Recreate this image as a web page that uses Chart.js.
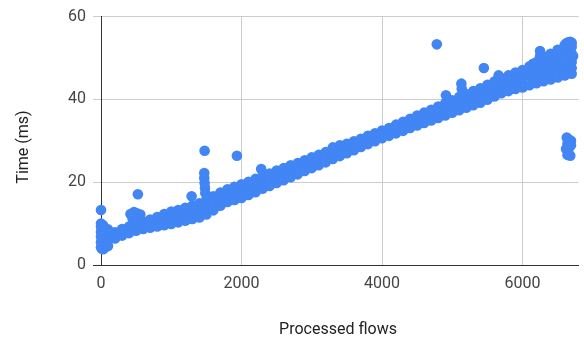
<!DOCTYPE html>
<html>
<head>
<meta charset="utf-8">
<script src="https://cdn.jsdelivr.net/npm/chart.js@4/dist/chart.umd.min.js"></script>
<style>
  html, body { margin: 0; padding: 0; background: #ffffff; }
  #c { display: block; }
</style>
</head>
<body>
<canvas id="c" width="584" height="341"></canvas>
<script>
// Processed flows (x) sampled along the dense band
const flows = [0,100,200,300,400,500,600,700,800,900,1000,1100,1200,1300,1400,1500,1600,1700,1800,1900,
  2000,2100,2200,2300,2400,2500,2600,2700,2800,2900,3000,3100,3200,3300,3400,3500,3600,3700,3800,3900,
  4000,4100,4200,4300,4400,4500,4600,4700,4800,4900,5000,5100,5200,5300,5400,5500,5600,5700,5800,5900,
  6000,6100,6200,6300,6400,6500,6600,6700];

// Time (ms): upper edge of the band
const timeUpper = [9.3,8.6,7.9,8.7,9.3,9.9,10.5,11.0,11.6,12.3,12.9,13.3,13.8,14.3,14.9,15.8,16.6,17.5,18.3,18.9,
  19.5,20.1,20.8,21.5,22.1,22.8,23.4,24.1,24.6,25.3,26.0,26.6,27.3,28.4,28.9,29.3,29.9,30.5,31.2,31.8,
  32.5,33.1,33.9,34.6,35.3,36.1,36.8,37.5,38.3,39.1,39.8,40.6,41.3,42.0,42.7,43.5,44.3,45.1,45.8,46.5,
  47.1,48.0,49.0,50.0,51.0,52.0,53.1,53.7];

// Time (ms): middle of the band
const timeMiddle = [6.8,6.6,7.2,8.0,8.6,9.2,9.6,10.0,10.5,11.0,11.4,11.8,12.3,12.7,13.2,14.0,14.9,15.9,16.8,17.3,
  17.9,18.5,19.2,20.0,20.6,21.3,22.0,22.7,23.3,24.0,24.7,25.4,26.1,27.0,27.6,28.2,28.8,29.5,30.2,30.9,
  31.5,32.2,32.9,33.5,34.2,34.9,35.6,36.2,36.9,37.6,38.3,39.0,39.7,40.3,41.0,41.7,42.5,43.3,43.9,44.5,
  45.0,45.8,46.5,47.3,48.0,48.7,49.5,50.0];

// Time (ms): lower edge of the band
const timeLower = [4.3,4.6,6.4,7.1,7.7,8.3,8.7,9.0,9.3,9.6,9.9,10.3,10.7,11.1,11.5,12.2,13.2,14.3,15.2,15.7,
  16.2,16.9,17.6,18.4,19.1,19.8,20.5,21.2,21.9,22.7,23.4,24.1,24.8,25.6,26.3,27.0,27.7,28.5,29.2,29.9,
  30.6,31.2,31.8,32.4,33.1,33.7,34.3,34.9,35.5,36.1,36.8,37.4,38.0,38.6,39.2,39.9,40.7,41.5,42.0,42.5,
  42.9,43.4,43.9,44.4,44.8,45.3,45.8,46.2];

// Isolated points, spikes and clusters
const extraFlows = [0,0,0,10,30,50,30,60,20,
  0,
  420,470,520,560,450,540,
  525,1290,
  1470,1470,1475,1480,1485,1475,1935,2280,
  4780,4910,5130,5135,5450,5660,
  6250,6250,
  6250,6250,6350,6350,6450,6450,6550,6550,6650,6650,6650,6700,6690,6600,6720,
  6150,6150,6150,6200,6200,6300,6300,6350,6350,6400,6400,6450,6450,6500,6500,6550,6550,6600,6600,
  6650,6650,6700,6700,6700,6680,6620,
  6630,6660,6690,6640,6670,6620,6650,6640,6680,6690];
const extraTimes = [10.0,8.0,5.5,4.0,3.8,4.1,9.6,5.5,7.0,
  13.3,
  12.3,12.8,12.4,12.2,11.2,11.0,
  17.1,16.6,
  22.2,21.0,19.8,18.6,17.4,27.6,26.4,23.2,
  53.3,41.0,43.8,42.6,47.6,45.8,
  51.7,50.4,
  47.4,45.4,48.6,46.0,49.3,46.7,50.2,47.3,51.4,48.0,53.8,51.0,47.7,52.3,50.5,
  44.8,47.0,48.6,45.3,47.7,45.6,48.4,47.3,50.3,47.2,49.5,48.0,50.8,46.5,50.4,48.7,52.0,47.3,50.8,
  49.6,46.7,49.0,52.7,47.5,53.9,53.5,
  30.8,30.3,30.0,29.3,28.6,28.0,27.4,26.6,26.4,28.9];

const xTicks = [0, 2000, 4000, 6000];
const yTicks = [0, 20, 40, 60];

const BLUE = '#4285F4';
function pts(xs, ys) { return xs.map((x, i) => ({ x: x, y: ys[i] })); }
function ds(data) {
  return { data: data, pointRadius: 5.3, pointHoverRadius: 5.3, pointBorderWidth: 0,
    pointBackgroundColor: BLUE, pointBorderColor: BLUE,
    backgroundColor: BLUE, borderColor: BLUE, showLine: false, clip: false };
}

const titlePlugin = {
  id: 'axisTitles',
  afterDraw(chart) {
    const ctx = chart.ctx;
    ctx.save();
    ctx.fillStyle = '#222222';
    ctx.font = '16px Roboto';
    ctx.textAlign = 'center';
    ctx.textBaseline = 'alphabetic';
    ctx.fillText('Processed flows', 338, 334);
    ctx.translate(28, 147);
    ctx.rotate(-Math.PI / 2);
    ctx.fillText('Time (ms)', 0, 0);
    ctx.restore();
  }
};

new Chart(document.getElementById('c'), {
  type: 'scatter',
  data: {
    datasets: [
      ds(pts(flows, timeLower)),
      ds(pts(flows, timeMiddle)),
      ds(pts(flows, timeUpper)),
      ds(pts(extraFlows, extraTimes))
    ]
  },
  options: {
    responsive: false,
    devicePixelRatio: 1,
    animation: false,
    events: [],
    layout: { padding: { top: 12, right: 4, left: 0, bottom: 0 } },
    plugins: { legend: { display: false }, tooltip: { enabled: false }, title: { display: false } },
    scales: {
      x: {
        type: 'linear',
        min: 0, max: 6800,
        afterFit(scale) { scale.height = 76; },
        afterBuildTicks(scale) { scale.ticks = xTicks.map(v => ({ value: v })); },
        ticks: { color: '#444444', font: { family: 'Roboto', size: 16 }, padding: 9, maxRotation: 0, autoSkip: false,
          includeBounds: false, callback: (v) => String(v) },
        grid: { color: '#cccccc', lineWidth: 1, drawTicks: false },
        border: { color: '#333333', width: 1 }
      },
      y: {
        type: 'linear',
        min: 0, max: 60,
        afterFit(scale) { scale.width = 101; },
        afterBuildTicks(scale) { scale.ticks = yTicks.map(v => ({ value: v })); },
        ticks: { color: '#444444', font: { family: 'Roboto', size: 16 }, padding: 7, includeBounds: false,
          callback: (v) => String(v) },
        grid: { color: '#cccccc', lineWidth: 1, drawTicks: true, tickLength: 8,
          tickColor: (c) => (c.tick && c.tick.value === 0 ? '#333333' : '#cccccc') },
        border: { color: '#333333', width: 1 }
      }
    }
  },
  plugins: [titlePlugin]
});
</script>
</body>
</html>
